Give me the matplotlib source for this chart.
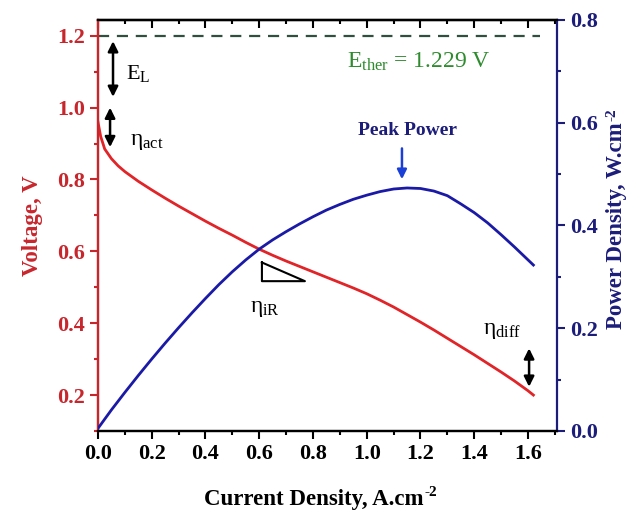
import matplotlib
matplotlib.use("Agg")
import matplotlib.pyplot as plt
from matplotlib.ticker import MultipleLocator

# polarisation curve
current_v = [0.0, 0.01, 0.025, 0.05, 0.075, 0.1, 0.15, 0.2, 0.25, 0.3, 0.35,
             0.4, 0.45, 0.5, 0.55, 0.6, 0.65, 0.7, 0.75, 0.8, 0.85, 0.9, 0.95,
             1.0, 1.05, 1.1, 1.15, 1.2, 1.25, 1.3, 1.35, 1.4, 1.45, 1.5, 1.55,
             1.6, 1.62]
voltage = [0.96, 0.92, 0.885, 0.858, 0.838, 0.822, 0.795, 0.771, 0.748, 0.726,
           0.705, 0.684, 0.664, 0.645, 0.625, 0.606, 0.589, 0.573, 0.558,
           0.543, 0.528, 0.513, 0.498, 0.482, 0.464, 0.445, 0.424, 0.403,
           0.381, 0.358, 0.335, 0.312, 0.288, 0.264, 0.239, 0.212, 0.200]

# power density curve
current_p = [0.0, 0.05, 0.1, 0.15, 0.2, 0.25, 0.3, 0.35, 0.4, 0.45, 0.5, 0.55,
             0.6, 0.65, 0.7, 0.75, 0.8, 0.85, 0.9, 0.95, 1.0, 1.05, 1.1, 1.15,
             1.2, 1.25, 1.3, 1.35, 1.4, 1.45, 1.5, 1.55, 1.6, 1.62]
power = [0.005, 0.041, 0.075, 0.108, 0.140, 0.171, 0.201, 0.230, 0.258, 0.285,
         0.310, 0.333, 0.354, 0.372, 0.388, 0.403, 0.417, 0.430, 0.441, 0.451,
         0.459, 0.466, 0.471, 0.473, 0.472, 0.467, 0.458, 0.442, 0.425, 0.405,
         0.382, 0.358, 0.333, 0.323]

e_ther_line = 1.2
e_ther_label = "$E_{\\rm ther}$ = 1.229 V"

RED = "#c8262d"
LINE_RED = "#e02428"
NAVY = "#1c1c7a"
BLUE = "#1a1aa6"
GREEN = "#2e8b2e"

plt.rcParams["font.family"] = ["Liberation Serif", "DejaVu Serif"]
plt.rcParams["mathtext.fontset"] = "custom"
plt.rcParams["mathtext.rm"] = "Liberation Serif"
plt.rcParams["mathtext.it"] = "Liberation Serif"
plt.rcParams["mathtext.bf"] = "Liberation Serif:bold"

fig = plt.figure(figsize=(6.28, 5.19), dpi=100)
ax = fig.add_axes([0.156, 0.1696, 0.731, 0.7919])
ax2 = ax.twinx()

ax.plot(current_v, voltage, color=LINE_RED, lw=2.0, zorder=3)
ax2.plot(current_p, power, color=BLUE, lw=2.0, zorder=3)
ax.plot([0, 1.645], [e_ther_line, e_ther_line], color="#2f4f3f", lw=1.6,
        dashes=(5, 3.5))

ax.set_xlim(0, 1.708)
ax.set_ylim(0.1, 1.244)
ax2.set_ylim(0, 0.8)

ax.xaxis.set_major_locator(MultipleLocator(0.2))
ax.xaxis.set_minor_locator(MultipleLocator(0.1))
ax.yaxis.set_major_locator(MultipleLocator(0.2))
ax.yaxis.set_minor_locator(MultipleLocator(0.1))
ax2.yaxis.set_major_locator(MultipleLocator(0.2))
ax2.yaxis.set_minor_locator(MultipleLocator(0.1))

ax.tick_params(axis="x", which="both", direction="out", top=False,
               width=1.5, labelsize=16, colors="black")
ax.tick_params(axis="x", which="major", length=6)
ax.tick_params(axis="x", which="minor", length=3)
ax.tick_params(axis="y", which="both", direction="out", width=1.5,
               colors=RED, labelsize=16, right=False)
ax.tick_params(axis="y", which="major", length=6)
ax.tick_params(axis="y", which="minor", length=3)
ax2.tick_params(axis="y", which="both", direction="out", width=1.5,
                colors=NAVY, labelsize=16)
ax2.tick_params(axis="y", which="major", length=6)
ax2.tick_params(axis="y", which="minor", length=3)

# top ticks point into the frame
top = ax.secondary_xaxis("top")
top.xaxis.set_major_locator(MultipleLocator(0.2))
top.xaxis.set_minor_locator(MultipleLocator(0.1))
top.tick_params(which="both", direction="in", width=1.5, labeltop=False)
top.tick_params(which="major", length=6)
top.tick_params(which="minor", length=3)
top.spines["top"].set_linewidth(1.6)

for lab in ax.get_xticklabels() + ax.get_yticklabels() + ax2.get_yticklabels():
    lab.set_fontweight("bold")

for s in ["left", "right", "top", "bottom"]:
    ax.spines[s].set_linewidth(1.6)
    ax2.spines[s].set_linewidth(1.6)
ax.spines["left"].set_color(RED)
ax2.spines["left"].set_color(RED)
ax2.spines["right"].set_color(NAVY)
ax.spines["right"].set_visible(False)

xl = ax.set_xlabel("Current Density, A.cm", fontsize=16.5,
                   fontweight="bold")
ax.xaxis.set_label_coords(0.47, -0.14, transform=ax.transAxes)
xl.set_va("top")
yl = ax.set_ylabel("Voltage, V", fontsize=16.5, fontweight="bold", color=RED,
                   labelpad=10)
yl2 = ax2.set_ylabel("Power Density, W.cm", fontsize=16.5,
                     fontweight="bold", color=NAVY, labelpad=6)

# annotations
arrow = dict(arrowstyle="<|-|>", color="black", lw=1.8, mutation_scale=15,
             shrinkA=0, shrinkB=0)
ax.annotate("", xy=(0.056, 1.185), xytext=(0.056, 1.03), arrowprops=arrow)
ax.text(0.105, 1.095, "$E_{\\rm L}$", fontsize=16, va="center")
ax.annotate("", xy=(0.045, 1.0), xytext=(0.045, 0.89), arrowprops=arrow)
ax.text(0.12, 0.905, "$\\eta_{\\rm act}$", fontsize=17, va="center")
ax.annotate("", xy=(1.604, 0.33), xytext=(1.604, 0.223), arrowprops=arrow)
ax.text(1.433, 0.38, "$\\eta_{\\rm diff}$", fontsize=17, va="center")

ax.plot([0.61, 0.61, 0.77, 0.61], [0.569, 0.517, 0.517, 0.569],
        color="black", lw=1.5)
ax.text(0.566, 0.44, "$\\eta_{\\rm iR}$", fontsize=17, va="center")

ax.text(1.194, 1.128, e_ther_label, fontsize=17, color=GREEN,
        ha="center", va="center")

ax2.annotate("", xy=(1.131, 0.49), xytext=(1.131, 0.55),
             arrowprops=dict(arrowstyle="-|>", color="#1a3fd6", lw=1.8,
                             mutation_scale=14, shrinkA=0, shrinkB=0))
ax2.text(1.15, 0.585, "Peak Power", fontsize=14, fontweight="bold",
         color=NAVY, ha="center", va="center")

# "-2" superscripts drawn after the labels, with a plain hyphen
fig.canvas.draw()
r = fig.canvas.get_renderer()
inv = fig.transFigure.inverted()
bb = xl.get_window_extent(r)
x0, y0 = inv.transform((bb.x1 + 1, bb.y1 + 3))
fig.text(x0, y0, "-2", fontsize=11, fontweight="bold", ha="left", va="top")
bb = yl2.get_window_extent(r)
x0, y0 = inv.transform((bb.x0 - 1, bb.y1 + 1))
fig.text(x0, y0, "-2", fontsize=11, fontweight="bold", color=NAVY,
         rotation=90, ha="left", va="bottom")

fig.savefig("out.png", dpi=100)
